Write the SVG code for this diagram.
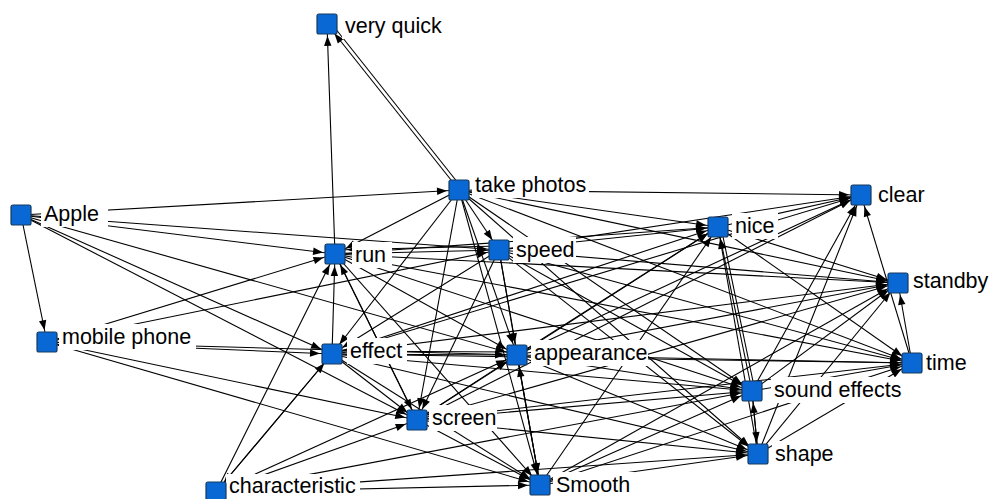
<svg xmlns="http://www.w3.org/2000/svg" width="991" height="499" viewBox="0 0 991 499">
<style>
.e{stroke:#000;stroke-width:1.1;fill:none;marker-end:url(#ah)}
.p{stroke:#000;stroke-width:1.1;fill:none}
.lb{fill:#fff}
.sq{fill:#0a68d4;stroke:#163a5e;stroke-width:1.2}
.t{font-family:"Liberation Sans",Arial,sans-serif;font-size:21.5px;fill:#000}
</style>
<defs>
<marker id="ah" markerUnits="userSpaceOnUse" markerWidth="40" markerHeight="20" refX="30" refY="10" orient="auto" overflow="visible"><path d="M8,6.3 L18,10 L8,13.7 z" fill="#000"/></marker>
</defs>
<rect width="991" height="499" fill="#fff"/>
<g id="connectors">
<line class="e" x1="335" y1="254" x2="327" y2="24"/>
<line class="e" x1="459" y1="190" x2="327" y2="24"/>
<line class="p" x1="462" y1="188" x2="331" y2="23"/>
<line class="e" x1="21" y1="215" x2="47" y2="342"/>
<line class="e" x1="21" y1="215" x2="459" y2="190"/>
<line class="e" x1="21" y1="215" x2="335" y2="254"/>
<line class="e" x1="21" y1="215" x2="499" y2="250"/>
<line class="e" x1="21" y1="215" x2="332" y2="354"/>
<line class="e" x1="21" y1="215" x2="417" y2="420"/>
<line class="e" x1="21" y1="215" x2="517" y2="355"/>
<line class="e" x1="47" y1="342" x2="332" y2="354"/>
<line class="e" x1="47" y1="342" x2="517" y2="355"/>
<line class="e" x1="47" y1="342" x2="417" y2="420"/>
<line class="e" x1="47" y1="342" x2="540" y2="485"/>
<line class="e" x1="47" y1="342" x2="335" y2="254"/>
<line class="e" x1="47" y1="342" x2="499" y2="250"/>
<line class="e" x1="459" y1="190" x2="335" y2="254"/>
<line class="e" x1="459" y1="190" x2="499" y2="250"/>
<line class="e" x1="459" y1="190" x2="718" y2="227"/>
<line class="e" x1="459" y1="190" x2="861" y2="195"/>
<line class="e" x1="459" y1="190" x2="898" y2="283"/>
<line class="e" x1="459" y1="190" x2="912" y2="363"/>
<line class="e" x1="459" y1="190" x2="517" y2="355"/>
<line class="e" x1="459" y1="190" x2="417" y2="420"/>
<line class="e" x1="459" y1="190" x2="540" y2="485"/>
<line class="e" x1="459" y1="190" x2="752" y2="391"/>
<line class="e" x1="459" y1="190" x2="758" y2="454"/>
<line class="e" x1="459" y1="190" x2="332" y2="354"/>
<line class="e" x1="335" y1="254" x2="499" y2="250"/>
<line class="e" x1="499" y1="246" x2="335" y2="250"/>
<line class="e" x1="335" y1="254" x2="718" y2="227"/>
<line class="e" x1="335" y1="254" x2="898" y2="283"/>
<line class="e" x1="335" y1="254" x2="912" y2="363"/>
<line class="e" x1="335" y1="254" x2="517" y2="355"/>
<line class="e" x1="335" y1="254" x2="417" y2="420"/>
<line class="e" x1="335" y1="254" x2="540" y2="485"/>
<line class="e" x1="335" y1="254" x2="752" y2="391"/>
<line class="e" x1="332" y1="354" x2="335" y2="254"/>
<line class="e" x1="216" y1="492" x2="335" y2="254"/>
<line class="e" x1="417" y1="420" x2="335" y2="254"/>
<line class="e" x1="499" y1="250" x2="718" y2="227"/>
<line class="e" x1="499" y1="250" x2="861" y2="195"/>
<line class="e" x1="499" y1="250" x2="898" y2="283"/>
<line class="e" x1="499" y1="250" x2="912" y2="363"/>
<line class="e" x1="499" y1="250" x2="517" y2="355"/>
<line class="e" x1="499" y1="250" x2="540" y2="485"/>
<line class="e" x1="499" y1="250" x2="417" y2="420"/>
<line class="e" x1="499" y1="250" x2="752" y2="391"/>
<line class="e" x1="499" y1="250" x2="758" y2="454"/>
<line class="e" x1="499" y1="250" x2="332" y2="354"/>
<line class="e" x1="332" y1="354" x2="517" y2="355"/>
<line class="p" x1="332" y1="351" x2="517" y2="352"/>
<line class="e" x1="332" y1="354" x2="417" y2="420"/>
<line class="e" x1="332" y1="354" x2="540" y2="485"/>
<line class="e" x1="332" y1="354" x2="718" y2="227"/>
<line class="e" x1="332" y1="354" x2="861" y2="195"/>
<line class="e" x1="332" y1="354" x2="898" y2="283"/>
<line class="e" x1="332" y1="354" x2="912" y2="363"/>
<line class="e" x1="332" y1="354" x2="752" y2="391"/>
<line class="e" x1="332" y1="354" x2="758" y2="454"/>
<line class="e" x1="332" y1="354" x2="216" y2="492"/>
<line class="e" x1="517" y1="355" x2="912" y2="363"/>
<line class="e" x1="517" y1="355" x2="752" y2="391"/>
<line class="e" x1="517" y1="355" x2="758" y2="454"/>
<line class="e" x1="517" y1="355" x2="540" y2="485"/>
<line class="e" x1="517" y1="355" x2="718" y2="227"/>
<line class="e" x1="517" y1="355" x2="861" y2="195"/>
<line class="e" x1="517" y1="355" x2="898" y2="283"/>
<line class="e" x1="417" y1="420" x2="517" y2="355"/>
<line class="e" x1="417" y1="420" x2="718" y2="227"/>
<line class="e" x1="417" y1="420" x2="898" y2="283"/>
<line class="e" x1="417" y1="420" x2="912" y2="363"/>
<line class="e" x1="417" y1="420" x2="752" y2="391"/>
<line class="e" x1="417" y1="420" x2="758" y2="454"/>
<line class="e" x1="417" y1="420" x2="540" y2="485"/>
<line class="e" x1="417" y1="420" x2="861" y2="195"/>
<line class="e" x1="216" y1="492" x2="517" y2="355"/>
<line class="e" x1="216" y1="492" x2="417" y2="420"/>
<line class="e" x1="216" y1="492" x2="752" y2="391"/>
<line class="e" x1="216" y1="492" x2="758" y2="454"/>
<line class="e" x1="216" y1="492" x2="540" y2="485"/>
<line class="e" x1="216" y1="492" x2="332" y2="354"/>
<line class="e" x1="540" y1="485" x2="517" y2="355"/>
<line class="e" x1="540" y1="485" x2="718" y2="227"/>
<line class="e" x1="540" y1="485" x2="898" y2="283"/>
<line class="e" x1="540" y1="485" x2="912" y2="363"/>
<line class="e" x1="540" y1="485" x2="752" y2="391"/>
<line class="e" x1="540" y1="485" x2="758" y2="454"/>
<line class="e" x1="752" y1="391" x2="718" y2="227"/>
<line class="p" x1="755" y1="391" x2="721" y2="227"/>
<line class="e" x1="752" y1="391" x2="861" y2="195"/>
<line class="e" x1="752" y1="391" x2="898" y2="283"/>
<line class="e" x1="752" y1="391" x2="912" y2="363"/>
<line class="e" x1="752" y1="391" x2="758" y2="454"/>
<line class="e" x1="758" y1="454" x2="752" y2="391"/>
<line class="e" x1="758" y1="454" x2="718" y2="227"/>
<line class="e" x1="758" y1="454" x2="861" y2="195"/>
<line class="e" x1="758" y1="454" x2="898" y2="283"/>
<line class="e" x1="758" y1="454" x2="912" y2="363"/>
<line class="e" x1="912" y1="363" x2="898" y2="283"/>
<line class="e" x1="912" y1="363" x2="861" y2="195"/>
<line class="e" x1="718" y1="227" x2="898" y2="283"/>
<line class="e" x1="718" y1="227" x2="912" y2="363"/>
<line class="e" x1="718" y1="227" x2="861" y2="195"/>
</g>
<g id="n-veryquick"><rect class="lb" x="342" y="13" width="102" height="26"/><text class="t" x="345" y="33">very quick</text><rect class="sq" x="317" y="14" width="20" height="20" rx="2"/></g>
<g id="n-takephotos"><rect class="lb" x="472" y="172" width="117" height="26"/><text class="t" x="475" y="192">take photos</text><rect class="sq" x="449" y="180" width="20" height="20" rx="2"/></g>
<g id="n-apple"><rect class="lb" x="41" y="201" width="67" height="26"/><text class="t" x="44" y="221">Apple</text><rect class="sq" x="11" y="205" width="20" height="20" rx="2"/></g>
<g id="n-run"><rect class="lb" x="352" y="242" width="40" height="26"/><text class="t" x="355" y="262">run</text><rect class="sq" x="325" y="244" width="20" height="20" rx="2"/></g>
<g id="n-speed"><rect class="lb" x="513" y="237" width="63" height="26"/><text class="t" x="516" y="257">speed</text><rect class="sq" x="489" y="240" width="20" height="20" rx="2"/></g>
<g id="n-nice"><rect class="lb" x="732" y="213" width="46" height="26"/><text class="t" x="735" y="233">nice</text><rect class="sq" x="708" y="217" width="20" height="20" rx="2"/></g>
<g id="n-clear"><rect class="lb" x="875" y="182" width="53" height="26"/><text class="t" x="878" y="202">clear</text><rect class="sq" x="851" y="185" width="20" height="20" rx="2"/></g>
<g id="n-standby"><rect class="lb" x="910" y="268" width="70" height="26"/><text class="t" x="913" y="288">standby</text><rect class="sq" x="888" y="273" width="20" height="20" rx="2"/></g>
<g id="n-mobilephone"><rect class="lb" x="59" y="324" width="137" height="26"/><text class="t" x="62" y="344">mobile phone</text><rect class="sq" x="37" y="332" width="20" height="20" rx="2"/></g>
<g id="n-effect"><rect class="lb" x="347" y="338" width="60" height="26"/><text class="t" x="350" y="358">effect</text><rect class="sq" x="322" y="344" width="20" height="20" rx="2"/></g>
<g id="n-appearance"><rect class="lb" x="531" y="340" width="117" height="26"/><text class="t" x="534" y="360">appearance</text><rect class="sq" x="507" y="345" width="20" height="20" rx="2"/></g>
<g id="n-time"><rect class="lb" x="923" y="350" width="49" height="26"/><text class="t" x="926" y="370">time</text><rect class="sq" x="902" y="353" width="20" height="20" rx="2"/></g>
<g id="n-soundeffects"><rect class="lb" x="771" y="377" width="133" height="26"/><text class="t" x="774" y="397">sound effects</text><rect class="sq" x="742" y="381" width="20" height="20" rx="2"/></g>
<g id="n-screen"><rect class="lb" x="429" y="405" width="68" height="26"/><text class="t" x="432" y="425">screen</text><rect class="sq" x="407" y="410" width="20" height="20" rx="2"/></g>
<g id="n-shape"><rect class="lb" x="772" y="441" width="61" height="26"/><text class="t" x="775" y="461">shape</text><rect class="sq" x="748" y="444" width="20" height="20" rx="2"/></g>
<g id="n-characteristic"><rect class="lb" x="226" y="474" width="134" height="25"/><text class="t" x="229" y="493">characteristic</text><rect class="sq" x="206" y="482" width="20" height="20" rx="2"/></g>
<g id="n-smooth"><rect class="lb" x="553" y="472" width="81" height="26"/><text class="t" x="556" y="492">Smooth</text><rect class="sq" x="530" y="475" width="20" height="20" rx="2"/></g>
</svg>
